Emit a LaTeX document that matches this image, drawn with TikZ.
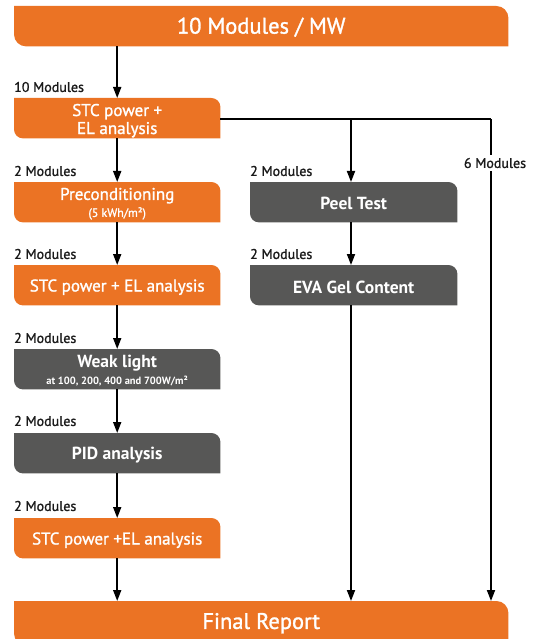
\documentclass[tikz,border=0pt]{standalone}
\usepackage{fontspec}
\setmainfont{PT Sans}
\newfontfamily\medfont[FakeBold=1.3]{PT Sans}
\usetikzlibrary{arrows.meta}
\definecolor{procorange}{HTML}{EB7324}
\definecolor{procgray}{HTML}{575756}
\definecolor{labelink}{HTML}{1A1A1A}
\pgfdeclarelayer{bg}
\pgfsetlayers{bg,main}

% backdrop of a step: square top-left / bottom-right, rounded top-right / bottom-left
\newcommand\stepshape[3][9]{%
  \begin{pgfonlayer}{bg}
    \fill[#3] (#2.north west) -- ([xshift=-#1pt]#2.north east)
      arc[start angle=90,end angle=0,radius=#1pt] -- (#2.south east)
      -- ([xshift=#1pt]#2.south west)
      arc[start angle=270,end angle=180,radius=#1pt] -- cycle;
  \end{pgfonlayer}}
\newcommand\subline[2][10.5]{{\fontsize{#1}{11}\selectfont #2}}

\tikzset{
  stepbox/.style={anchor=north west, minimum width=206pt, minimum height=40pt, inner sep=0pt},
  widebox/.style={stepbox, minimum width=494pt},
  steptext/.style={inner sep=0pt, align=center, text=white, font=\medfont\fontsize{17}{18}\selectfont},
  darktext/.style={steptext, font=\bfseries\fontsize{17.5}{18}\selectfont},
  widetext/.style={steptext, font=\medfont\fontsize{22.5}{24}\selectfont},
  orangefill/.style={fill=procorange},
  grayfill/.style={fill=procgray},
  count/.style={anchor=west, inner sep=0pt, text=labelink, font=\medfont\fontsize{14}{15}\selectfont},
  link/.style={line width=1.8pt, black},
  arr/.style={link, -{Triangle[length=11pt,width=8pt]}}
}

\begin{document}
\begin{tikzpicture}[x=1pt,y=1pt]
\useasboundingbox (0,0) rectangle (539,-639);
\clip (0,0) rectangle (539,-639);

% step frames
\node[widebox] (top) at (14,-6) {};
\node[stepbox] (stc1) at (14,-98) {};
\node[stepbox] (pre) at (14,-182) {};
\node[stepbox] (stc2) at (14,-265) {};
\node[stepbox] (weak) at (14,-349) {};
\node[stepbox] (pid) at (14,-433) {};
\node[stepbox] (stc3) at (14,-518) {};
\node[widebox, minimum height=44pt] (final) at (14,-601) {};
\node[stepbox, minimum width=207pt] (peel) at (250,-182) {};
\node[stepbox, minimum width=207pt] (eva) at (250,-265) {};

\stepshape[12]{top}{orangefill}
\stepshape{stc1}{orangefill}
\stepshape{pre}{orangefill}
\stepshape{stc2}{orangefill}
\stepshape{weak}{grayfill}
\stepshape{pid}{grayfill}
\stepshape{stc3}{orangefill}
\stepshape[12]{final}{orangefill}
\stepshape{peel}{grayfill}
\stepshape{eva}{grayfill}

% step titles
\node[widetext] (top-t) at ([yshift=-1pt]top.center) {10 Modules / MW};
\node[steptext] (stc1-t) at ([yshift=-2.5pt]stc1.center) {STC power +\\EL analysis};
\node[steptext] (pre-t) at ([yshift=-1.5pt]pre.center) {Preconditioning\\[-1pt]\subline[12]{(5 kWh/m²)}};
\node[steptext] (stc2-t) at ([yshift=-2pt]stc2.center) {STC power + EL analysis};
\node[darktext] (weak-t) at ([yshift=-1pt]weak.center) {Weak light\\[-1pt]\subline{at 100, 200, 400 and 700W/m²}};
\node[darktext] (pid-t) at ([yshift=-2pt]pid.center) {PID analysis};
\node[steptext] (stc3-t) at ([yshift=-2pt]stc3.center) {STC power +EL analysis};
\node[widetext] (final-t) at ([yshift=0pt]final.center) {Final Report};
\node[darktext] (peel-t) at ([yshift=-1pt]peel.center) {Peel Test};
\node[darktext] (eva-t) at ([yshift=-2pt]eva.center) {EVA Gel Content};

% module counts
\node[count] (c0) at (14,-87) {10 Modules};
\node[count] (c1) at (14,-171) {2 Modules};
\node[count] (c2) at (14,-254) {2 Modules};
\node[count] (c3) at (14,-338) {2 Modules};
\node[count] (c4) at (14,-421) {2 Modules};
\node[count] (c5) at (14,-506) {2 Modules};
\node[count] (c6) at (250,-171) {2 Modules};
\node[count] (c7) at (250,-254) {2 Modules};
\node[count, anchor=center, inner sep=3pt] (six) at (495,-163) {6 Modules};

% branch points
\coordinate (jpeel) at (351,-119);
\coordinate (jsix) at (491,-119);

% main chain
\draw[arr] (top.south -| stc1.north) -- (stc1.north);
\draw[arr] (stc1) -- (pre);
\draw[arr] (pre) -- (stc2);
\draw[arr] (stc2) -- (weak);
\draw[arr] (weak) -- (pid);
\draw[arr] (pid) -- (stc3);
\draw[arr] (stc3) -- (stc3.south |- final.north);

% side branches
\draw[link] (stc1.east |- jpeel) -- (jsix);
\draw[arr] (jpeel) -- (jpeel |- peel.north);
\draw[arr] (jpeel |- peel.south) -- (jpeel |- eva.north);
\draw[arr] (jpeel |- eva.south) -- (jpeel |- final.north);
\draw[link] (jsix) -- (jsix |- six.north);
\draw[arr] (jsix |- six.south) -- (jsix |- final.north);
\end{tikzpicture}
\end{document}
